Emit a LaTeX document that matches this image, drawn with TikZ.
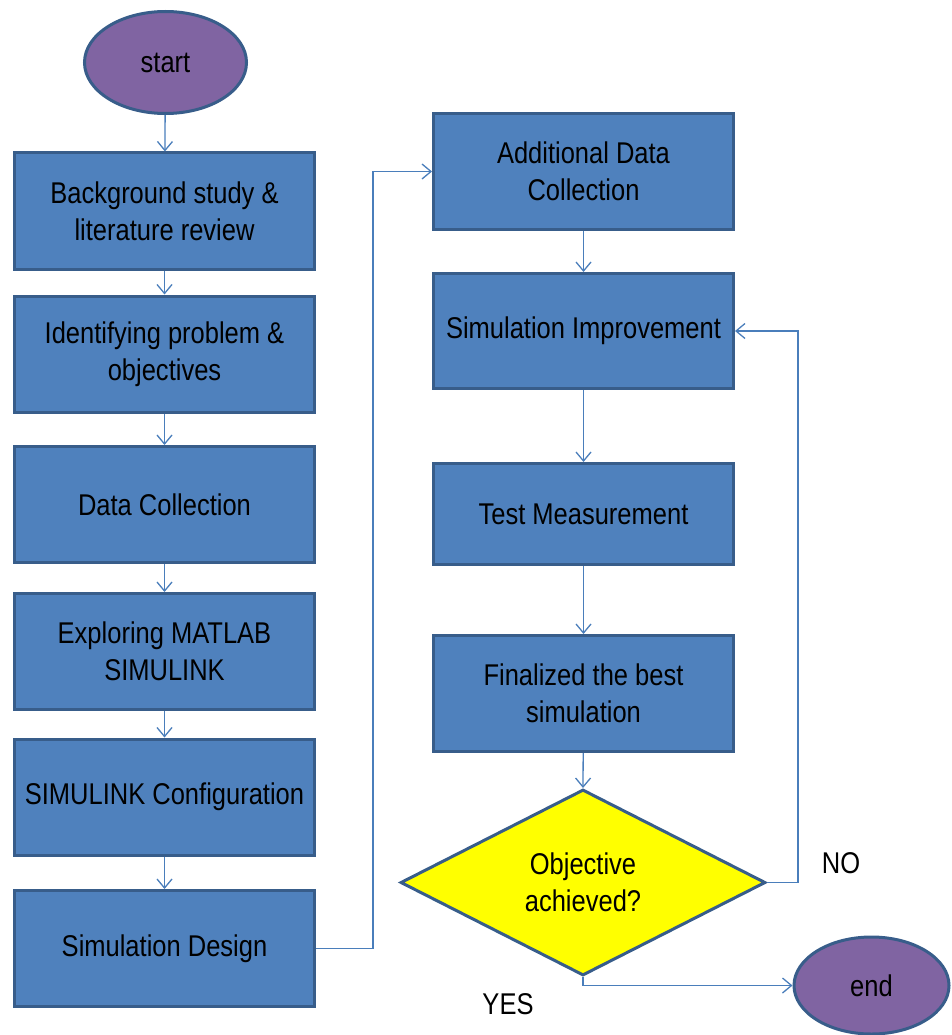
\documentclass[tikz,border=0pt]{standalone}
\usepackage{fontspec}
\setmainfont{Liberation Sans}[FakeStretch=0.85]
\usetikzlibrary{shapes.geometric,arrows.meta,calc}
\definecolor{boxfill}{HTML}{4F81BD}
\definecolor{boxline}{HTML}{385D8A}
\definecolor{arrcol}{HTML}{4A7EBB}
\definecolor{ovalfill}{HTML}{8064A2}
\definecolor{decfill}{HTML}{FFFF00}
\tikzset{
  stepbox/.style={rectangle, draw=boxline, fill=boxfill, line width=3pt,
    minimum width=300pt, minimum height=116pt, inner sep=0pt, align=center,
    font=\fontsize{30}{37}\selectfont, text=black},
  oval/.style={ellipse, draw=boxline, fill=ovalfill, line width=3pt, inner sep=0pt,
    font=\fontsize{30}{37}\selectfont, text=black},
  decision/.style={diamond, draw=boxline, fill=decfill, line width=3pt, inner sep=0pt,
    minimum width=365pt, minimum height=186pt, shape aspect=1.96, align=center,
    font=\fontsize{30}{37}\selectfont, text=black},
  lbl/.style={font=\fontsize{30}{37}\selectfont, text=black, inner sep=0pt},
  arr/.style={draw=arrcol, line width=1.3pt,
    -{Straight Barb[length=9pt,width=15pt,line width=1.3pt]}}
}
\begin{document}
\begin{tikzpicture}[x=1pt,y=-1pt]
\useasboundingbox (0,0) rectangle (951,1035);
% nodes
\node[oval, minimum width=162pt, minimum height=102pt] (start) at (165.5,62.5) {start};
\node[stepbox] (b1) at (164.5,211) {Background study \&\\literature review};
\node[stepbox] (b2) at (164.5,354) {Identifying problem \&\\objectives};
\node[stepbox] (b3) at (164.5,504.5) {Data Collection};
\node[stepbox] (b4) at (164.5,651.5) {Exploring MATLAB\\SIMULINK};
\node[stepbox] (b5) at (164.5,797) {SIMULINK Configuration};
\node[stepbox] (b6) at (164.5,948.5) {Simulation Design};
\node[stepbox] (r1) at (583.5,171.5) {Additional Data\\Collection};
\node[stepbox, minimum height=115pt] (r2) at (583.5,331) {Simulation Improvement};
\node[stepbox, minimum height=101pt] (r3) at (583.5,514) {Test Measurement};
\node[stepbox] (r4) at (583.5,693.5) {Finalized the best\\simulation};
\node[decision] (dec) at (583,882.5) {Objective\\achieved?};
\node[oval, minimum width=155pt, minimum height=97pt] (end) at (871.5,985.5) {end};
\node[lbl] (no) at (841,863) {NO};
\node[lbl] (yes) at (508,1004) {YES};
\coordinate (j1) at (373,948.5);
\coordinate (j2) at (798,882.5);
% connectors
\draw[arr] (start) -- (b1);
\draw[arr] (b1) -- (b2);
\draw[arr] (b2) -- (b3);
\draw[arr] (b3) -- (b4);
\draw[arr] (b4) -- (b5);
\draw[arr] (b5) -- (b6);
\draw[arr] (b6.east) -- (j1) |- (r1.west);
\draw[arr] (r1) -- (r2);
\draw[arr] (r2) -- (r3);
\draw[arr] (r3) -- (r4);
\draw[arr] (r4) -- (dec.north);
\draw[arr] (dec.east) -- (j2) |- (r2.east);
\draw[arr] (dec.south) |- (end.west);
\end{tikzpicture}
\end{document}
